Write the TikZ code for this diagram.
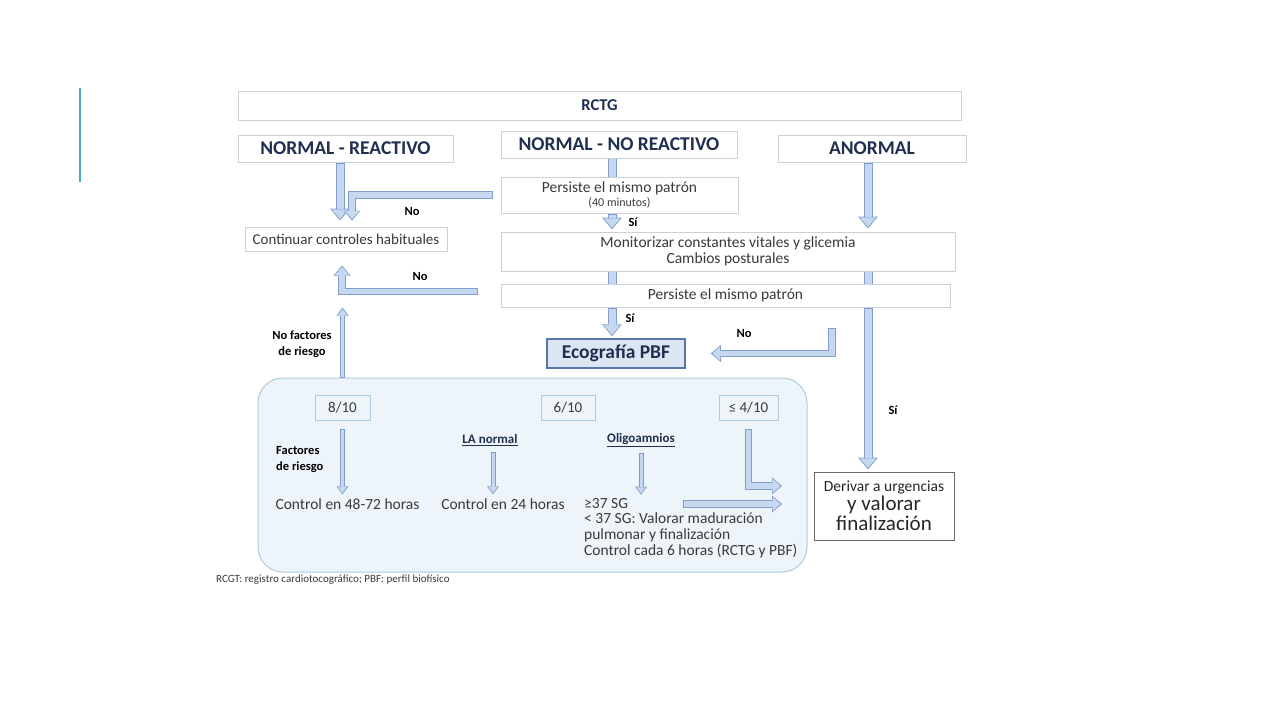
\documentclass[tikz,border=0pt]{standalone}
\usepackage{fontspec}
\setmainfont{Carlito}
\usetikzlibrary{arrows.meta}

\definecolor{boxline}{HTML}{C9D1DD}
\definecolor{arrline}{HTML}{819ECB}
\definecolor{arrfill}{HTML}{C6D8EF}
\definecolor{panelfill}{HTML}{EEF5FA}
\definecolor{panelline}{HTML}{AFCBE0}
\definecolor{navy}{HTML}{1F2F4F}
\definecolor{txt}{HTML}{3A3A3A}
\definecolor{ecofill}{HTML}{DCE6F2}
\definecolor{ecoline}{HTML}{5577AA}
\definecolor{slideteal}{HTML}{4AA6BE}

\begin{document}
\begin{tikzpicture}[x=1pt,y=-1pt,
    box/.style={draw=boxline, fill=white, line width=1pt, inner sep=0pt, text=txt, align=center},
    head/.style={box, font=\bfseries\fontsize{19.5}{22}\selectfont, text=navy},
    body/.style={font=\fontsize{15.5}{15.7}\selectfont, text=txt, inner sep=0pt},
    lbl/.style={font=\bfseries\fontsize{12.5}{15}\selectfont, text=black, inner sep=0pt, align=center},
    numbox/.style={draw=panelline, line width=1pt, inner sep=0pt, font=\fontsize{15}{16}\selectfont, text=txt},
    blockline/.style={draw=arrline, line width=9pt,
        postaction={draw=arrfill, line width=7pt}},
    blockarr/.style={draw=arrline, line width=9pt, -{Triangle[length=12pt,width=20pt,line width=0pt]},
        postaction={draw=arrfill, line width=7pt, shorten <=1pt, shorten >=1.6pt,
            -{Triangle[length=9.6pt,width=16.5pt,line width=0pt]}}},
    midarr/.style={draw=arrline, line width=7.5pt, -{Triangle[length=10pt,width=17pt,line width=0pt]},
        postaction={draw=arrfill, line width=5.5pt, shorten <=1pt, shorten >=1.5pt,
            -{Triangle[length=7.8pt,width=13.8pt,line width=0pt]}}},
    thinarr/.style={draw=arrline, line width=5pt, -{Triangle[length=8pt,width=12pt,line width=0pt]},
        postaction={draw=arrfill, line width=3pt, shorten <=1pt, shorten >=1.5pt,
            -{Triangle[length=5.8pt,width=9pt,line width=0pt]}}}]

    \useasboundingbox (0,0) rectangle (1280,720);
    \draw[slideteal, line width=2pt] (80,88) -- (80,182);

    % top row
    \node[box, font=\bfseries\fontsize{16.5}{18}\selectfont, text=navy, minimum width=723, minimum height=29] (rctg) at (599.5,105.5) {RCTG};
    \node[head, minimum width=215, minimum height=27] (reac) at (345.5,148.5) {NORMAL - REACTIVO};
    \node[head, minimum width=236, minimum height=27] (noreac) at (619,144.5) {NORMAL - NO REACTIVO};
    \node[head, minimum width=188, minimum height=27] (anor) at (872,148.5) {ANORMAL};

    % middle
    \node[box, font=\fontsize{15.5}{14}\selectfont, minimum width=237, minimum height=36] (pers1) at (619.5,195)
        {Persiste el mismo patrón\\{\fontsize{12}{12}\selectfont (40 minutos)}};
    \node[box, font=\fontsize{15}{16}\selectfont, minimum width=202, minimum height=24] (cont) at (346,239) {Continuar controles habituales};
    \node[box, font=\fontsize{15.5}{16}\selectfont, minimum width=454, minimum height=39] (moni) at (728,251.5)
        {Monitorizar constantes vitales y glicemia\\Cambios posturales};
    \node[box, font=\fontsize{15.5}{16}\selectfont, minimum width=449, minimum height=23] (pers2) at (725.5,295.5) {Persiste el mismo patrón};
    \node[draw=ecoline, fill=ecofill, line width=1.5pt, font=\bfseries\fontsize{19.5}{22}\selectfont, text=navy,
        minimum width=138, minimum height=29, inner sep=0pt] (eco) at (616,353.5) {Ecografía PBF};

    % panel
    \node[draw=panelline, fill=panelfill, line width=1pt, rounded corners=25pt,
        minimum width=549, minimum height=194] (panel) at (532.5,475) {};
    \node[numbox, minimum width=55, minimum height=25] (b8) at (342.5,407.5) {8/10};
    \node[numbox, minimum width=54, minimum height=25] (b6) at (568,407.5) {6/10};
    \node[numbox, minimum width=59, minimum height=25] (b4) at (748.5,407.5) {≤ 4/10};
    \node[lbl, font=\bfseries\fontsize{13}{15}\selectfont, text=navy] (lanorm) at (490,440) {\underline{LA normal}};
    \node[lbl, font=\bfseries\fontsize{13}{15}\selectfont, text=navy] (oligo) at (641,440) {\underline{Oligoamnios}};
    \node[lbl, align=left, anchor=west, font=\bfseries\fontsize{12.5}{16}\selectfont] (fact) at (276,460) {Factores\\de riesgo};
    \node[body] (ctl48) at (347.5,504) {Control en 48-72 horas};
    \node[body] (ctl24) at (503,504) {Control en 24 horas};
    \node[body, anchor=west] (sg) at (584,504) {≥37 SG};
    \node[body, anchor=north west, align=left] (sgtxt) at (584,513)
        {< 37 SG: Valorar maduración\\pulmonar y finalización\\Control cada 6 horas (RCTG y PBF)};

    \node[box, minimum width=140, minimum height=68, draw=black!60, text=black!85] (deriv) at (884,506)
        {{\fontsize{15.5}{15}\selectfont Derivar a urgencias}\\[1pt]
         {\fontsize{21}{21}\selectfont y valorar}\\[1pt]
         {\fontsize{21}{21}\selectfont finalización}};

    \node[lbl, font=\bfseries\fontsize{12.5}{16}\selectfont] (nofact) at (302,344) {No factores\\de riesgo};
    \node[font=\fontsize{11}{12}\selectfont, text=txt, anchor=west, inner sep=0pt] (foot) at (216,580)
        {RCGT: registro cardiotocográfico; PBF: perfil biofísico};

    % connector labels
    \node[lbl] (lno1) at (412,211) {No};
    \node[lbl] (lsi1) at (633,222) {Sí};
    \node[lbl] (lno2) at (420,276) {No};
    \node[lbl] (lsi2) at (630,318) {Sí};
    \node[lbl] (lno3) at (744,333) {No};
    \node[lbl] (lsi3) at (893,410) {Sí};

    % connectors
    \coordinate (midx) at ([xshift=-7]noreac.south);
    \coordinate (ecoin) at ([xshift=-4]eco.north);
    \coordinate (anx) at ([xshift=-4]anor.south);
    \coordinate (lax) at ([xshift=3]lanorm.south);
    \coordinate (nostart) at (832,328);
    \coordinate (d4) at (782,486);

    \draw[blockarr] ([xshift=-5.5]reac.south) -- ([shift={(-6,-6)}]cont.north);
    \draw[midarr] ([xshift=-8]pers1.west) -| ([shift={(6,-6)}]cont.north);
    \draw[blockline] (midx) -- (midx |- pers1.north);
    \draw[blockarr] (midx |- pers1.south) -- ([shift={(0,-2)}]midx |- moni.north);
    \draw[blockline] (midx |- moni.south) -- (midx |- pers2.north);
    \draw[blockarr] (ecoin |- pers2.south) -- ([shift={(0,-2)}]ecoin);
    \draw[blockarr] (anx) -- ([shift={(0,-3)}]anx |- moni.north);
    \draw[blockline] (anx |- moni.south) -- (anx |- pers2.north);
    \draw[blockarr] (anx |- pers2.south) -- ([shift={(0,-2)}]anx |- deriv.north);
    \draw[midarr] (nostart) |- ([xshift=25]eco.east);
    \draw[midarr] ([shift={(-23,-4)}]pers2.west) -| ([shift={(-4,14)}]cont.south);
    \draw[thinarr] (b8.north |- panel.north) -- ++(0,-70);
    \draw[thinarr] ([shift={(0,8)}]b8.south) -- ([shift={(0,-4)}]b8.south |- ctl48.north);
    \draw[thinarr] ([shift={(0,6)}]lax) -- ([shift={(0,-4)}]lax |- ctl24.north);
    \draw[thinarr] ([shift={(0,6)}]oligo.south) -- ([shift={(0,-4)}]oligo.south |- sg.north);
    \draw[midarr] ([shift={(0,8)}]b4.south) |- (d4);
    \draw[midarr] ([xshift=55]sg.east) -- (sg.east -| d4);
\end{tikzpicture}
\end{document}
